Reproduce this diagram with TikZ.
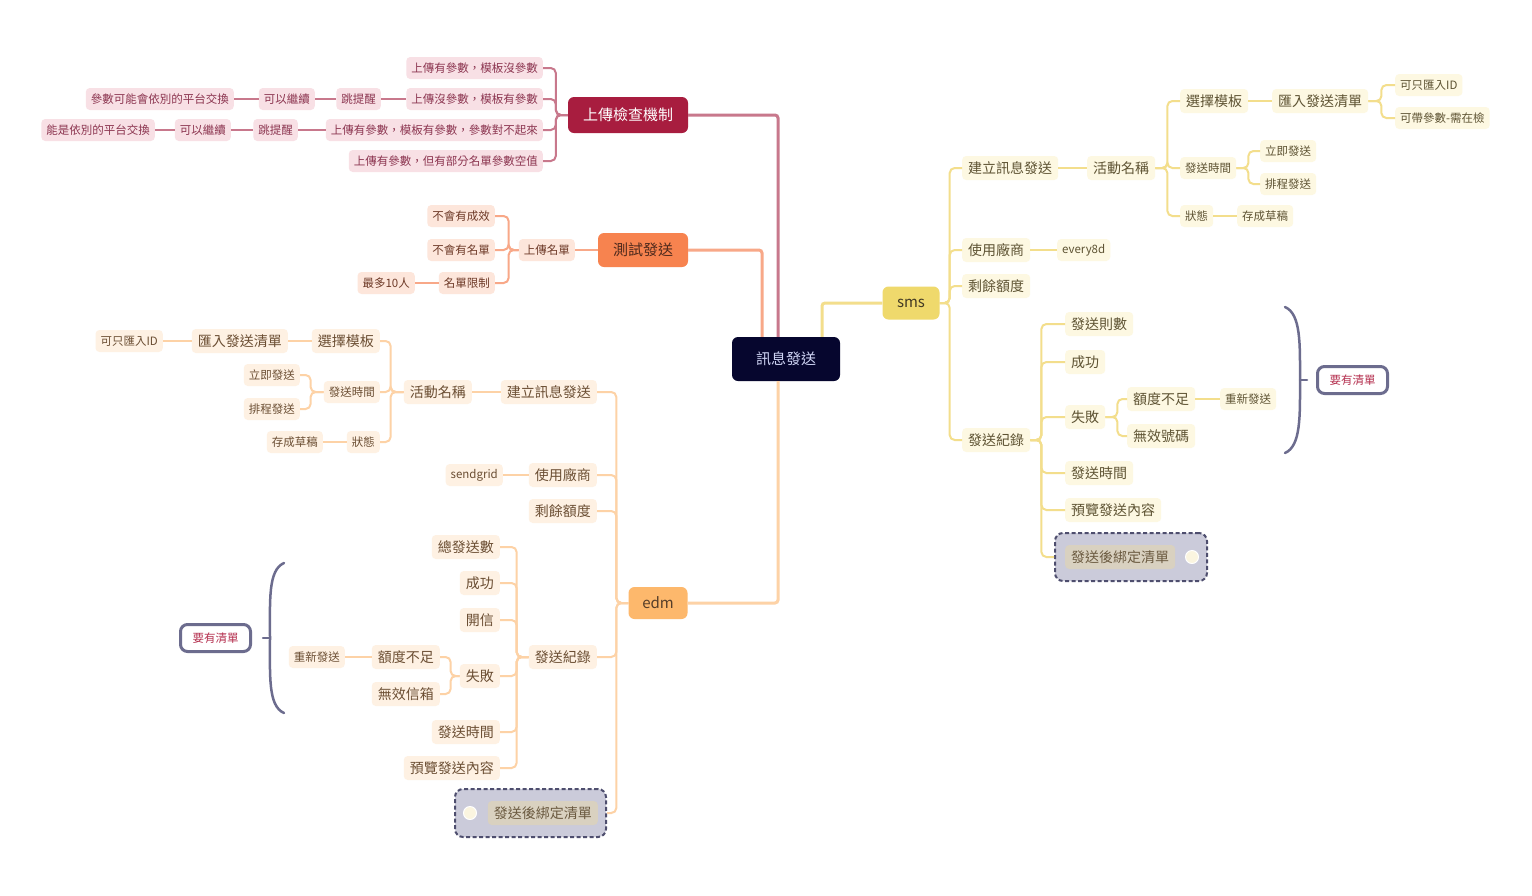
\documentclass[tikz,border=0pt]{standalone}
\usepackage{fontspec}
\setmainfont{Noto Sans CJK TC}
\usetikzlibrary{calc,fit}
\definecolor{navy}{HTML}{06062E}
\definecolor{roottxt}{HTML}{D0D5F5}
\definecolor{redmain}{HTML}{A81D3F}
\definecolor{redline}{HTML}{C8788C}
\definecolor{redleaf}{HTML}{F8E0E5}
\definecolor{redtxt}{HTML}{8C3550}
\definecolor{orgmain}{HTML}{F7834F}
\definecolor{orgline}{HTML}{F8A888}
\definecolor{orgleaf}{HTML}{FDE6DB}
\definecolor{orgtxt}{HTML}{6E3A28}
\definecolor{edmmain}{HTML}{FDB86C}
\definecolor{edmline}{HTML}{FDD2A6}
\definecolor{edmleaf}{HTML}{FEF1E3}
\definecolor{edmtxt}{HTML}{6B4E33}
\definecolor{smsmain}{HTML}{EFD96C}
\definecolor{smsline}{HTML}{F3DE8C}
\definecolor{smsleaf}{HTML}{FDF8E2}
\definecolor{smstxt}{HTML}{5E5333}
\definecolor{bindbg}{HTML}{CBCBDA}
\definecolor{binddash}{HTML}{4E4E6E}
\definecolor{bindin}{HTML}{D9D1C0}
\definecolor{bindtxt}{HTML}{6B5A40}
\definecolor{circfill}{HTML}{FBF5E0}
\definecolor{bracecol}{HTML}{6C6C8E}
\definecolor{needtxt}{HTML}{B5304F}
\newcommand\mmlink[4]{\draw[#1] (#2) -- ++(#3,0) |- (#4);}
\tikzset{
  nd/.style={rounded corners=4pt, inner ysep=0pt, align=center},
  big/.style={nd, inner xsep=6pt, minimum height=24pt, font=\fontsize{14}{16}\selectfont},
  sml/.style={nd, inner xsep=5pt, minimum height=22pt, font=\fontsize{11.5}{13}\selectfont},
  redlf/.style={sml, fill=redleaf, text=redtxt},
  orglf/.style={sml, fill=orgleaf, text=orgtxt},
  edmB/.style={big, fill=edmleaf, text=edmtxt},
  edmS/.style={sml, fill=edmleaf, text=edmtxt},
  smsB/.style={big, fill=smsleaf, text=smstxt},
  smsS/.style={sml, fill=smsleaf, text=smstxt},
  mainnd/.style={rounded corners=6pt, inner sep=0pt, font=\fontsize{15}{17}\selectfont},
  lnk/.style={line width=2pt, rounded corners=5pt},
  redlk/.style={lnk, draw=redline},
  orglk/.style={lnk, draw=orgline},
  edmlk/.style={lnk, draw=edmline},
  smslk/.style={lnk, draw=smsline},
  mainlk/.style={line width=3pt, rounded corners=3pt},
  bindbox/.style={draw=binddash, dash pattern=on 4pt off 2.5pt, line width=2pt, fill=bindbg, rounded corners=8pt, inner xsep=7pt, inner ysep=12pt},
  bindinner/.style={big, fill=bindin, text=bindtxt},
  bindcirc/.style={circle, fill=circfill, draw=white, line width=1pt, minimum size=13pt, inner sep=0pt},
  needbox/.style={draw=bracecol, line width=3pt, fill=white, rounded corners=7pt, minimum width=70pt, minimum height=27pt, inner sep=0pt, text=needtxt, font=\fontsize{11.5}{13}\selectfont},
  bracesty/.style={draw=bracecol, line width=2.5pt, line cap=round}
}
\begin{document}
\begin{tikzpicture}[x=1pt,y=-1pt]
\useasboundingbox[fill=white] (0,0) rectangle (1532,895);

% main nodes
\node[mainnd, fill=navy, text=roottxt, minimum width=108pt, minimum height=44pt] (root) at (786,359) {訊息發送};
\node[mainnd, fill=redmain, text=white, minimum width=120pt, minimum height=36pt] (chk) at (628,115) {上傳檢查機制};
\node[mainnd, fill=orgmain, text=orgtxt!70!black, minimum width=90pt, minimum height=34pt] (test) at (643,250) {測試發送};
\node[mainnd, fill=smsmain, text=smstxt!70!black, minimum width=57pt, minimum height=33pt] (sms) at (911,303) {sms};
\node[mainnd, fill=edmmain, text=edmtxt!80!black, minimum width=59pt, minimum height=32pt] (edm) at (658,603) {edm};

\draw[mainlk, draw=redline] ($(root.north)+(-8,0)$) |- (chk.east);
\draw[mainlk, draw=orgline] ($(root.north)+(-24,0)$) |- (test.east);
\draw[mainlk, draw=smsline] ($(root.north)+(36,0)$) |- (sms.west);
\draw[mainlk, draw=edmline] ($(root.south)+(-8,0)$) |- (edm.east);

% red subtree
\node[redlf, anchor=east] (r1) at (543,68) {上傳有參數，模板沒參數};
\node[redlf, anchor=east] (r2) at (543,99) {上傳沒參數，模板有參數};
\node[redlf, anchor=east] (r3) at (543,130) {上傳有參數，模板有參數，參數對不起來};
\node[redlf, anchor=east] (r4) at (543,161) {上傳有參數，但有部分名單參數空值};
\node[redlf, anchor=east] (r2a) at (381,99) {跳提醒};
\node[redlf, anchor=east] (r2b) at (315,99) {可以繼續};
\node[redlf, anchor=east] (r2c) at (234,99) {參數可能會依別的平台交換};
\node[redlf, anchor=east] (r3a) at (298,130) {跳提醒};
\node[redlf, anchor=east] (r3b) at (231,130) {可以繼續};
\node[redlf, anchor=east] (r3c) at (155,130) {能是依別的平台交換};
\mmlink{redlk}{chk.west}{-12}{r1.east}
\mmlink{redlk}{chk.west}{-12}{r2.east}
\mmlink{redlk}{chk.west}{-12}{r3.east}
\mmlink{redlk}{chk.west}{-12}{r4.east}
\draw[redlk] (r2.west) -- (r2a.east);
\draw[redlk] (r2a.west) -- (r2b.east);
\draw[redlk] (r2b.west) -- (r2c.east);
\draw[redlk] (r3.west) -- (r3a.east);
\draw[redlk] (r3a.west) -- (r3b.east);
\draw[redlk] (r3b.west) -- (r3c.east);

% orange subtree
\node[orglf, anchor=east] (o0) at (575,250) {上傳名單};
\node[orglf, anchor=east] (o1) at (495,216) {不會有成效};
\node[orglf, anchor=east] (o2) at (495,250) {不會有名單};
\node[orglf, anchor=east] (o3) at (495,283) {名單限制};
\node[orglf, anchor=east] (o3a) at (415,283) {最多10人};
\draw[orglk] (test.west) -- (o0.east);
\mmlink{orglk}{o0.west}{-10}{o1.east}
\mmlink{orglk}{o0.west}{-10}{o2.east}
\mmlink{orglk}{o0.west}{-10}{o3.east}
\draw[orglk] (o3.west) -- (o3a.east);

% edm subtree
\node[edmB, anchor=east] (e1) at (597,392) {建立訊息發送};
\node[edmB, anchor=east] (e11) at (472,392) {活動名稱};
\node[edmB, anchor=east] (e111) at (380,341) {選擇模板};
\node[edmB, anchor=east] (e1111) at (288,341) {匯入發送清單};
\node[edmS, anchor=east] (e11111) at (163,341) {可只匯入ID};
\node[edmS, anchor=east] (e112) at (380,392) {發送時間};
\node[edmS, anchor=east] (e1121) at (300,375) {立即發送};
\node[edmS, anchor=east] (e1122) at (300,409) {排程發送};
\node[edmS, anchor=east] (e113) at (380,442) {狀態};
\node[edmS, anchor=east] (e1131) at (323,442) {存成草稿};
\node[edmB, anchor=east] (e2) at (597,475) {使用廠商};
\node[edmS, anchor=east] (e21) at (503,475) {sendgrid};
\node[edmB, anchor=east] (e3) at (597,511) {剩餘額度};
\node[edmB, anchor=east] (e4) at (597,657) {發送紀錄};
\node[edmB, anchor=east] (e41) at (500,547) {總發送數};
\node[edmB, anchor=east] (e42) at (500,583) {成功};
\node[edmB, anchor=east] (e43) at (500,620) {開信};
\node[edmB, anchor=east] (e44) at (500,676) {失敗};
\node[edmB, anchor=east] (e441) at (440,657) {額度不足};
\node[edmS, anchor=east] (e4411) at (345,657) {重新發送};
\node[edmB, anchor=east] (e442) at (440,694) {無效信箱};
\node[edmB, anchor=east] (e45) at (500,732) {發送時間};
\node[edmB, anchor=east] (e46) at (500,768) {預覽發送內容};
\mmlink{edmlk}{edm.west}{-12}{e1.east}
\mmlink{edmlk}{edm.west}{-12}{e2.east}
\mmlink{edmlk}{edm.west}{-12}{e3.east}
\mmlink{edmlk}{edm.west}{-12}{e4.east}
\draw[edmlk] (e1.west) -- (e11.east);
\mmlink{edmlk}{e11.west}{-13}{e111.east}
\mmlink{edmlk}{e11.west}{-13}{e112.east}
\mmlink{edmlk}{e11.west}{-13}{e113.east}
\draw[edmlk] (e111.west) -- (e1111.east);
\draw[edmlk] (e1111.west) -- (e11111.east);
\mmlink{edmlk}{e112.west}{-13}{e1121.east}
\mmlink{edmlk}{e112.west}{-13}{e1122.east}
\draw[edmlk] (e113.west) -- (e1131.east);
\draw[edmlk] (e2.west) -- (e21.east);
\mmlink{edmlk}{e4.west}{-12}{e41.east}
\mmlink{edmlk}{e4.west}{-12}{e42.east}
\mmlink{edmlk}{e4.west}{-12}{e43.east}
\mmlink{edmlk}{e4.west}{-12}{e44.east}
\mmlink{edmlk}{e4.west}{-12}{e45.east}
\mmlink{edmlk}{e4.west}{-12}{e46.east}
\mmlink{edmlk}{e44.west}{-9}{e441.east}
\mmlink{edmlk}{e44.west}{-9}{e442.east}
\draw[edmlk] (e441.west) -- (e4411.east);

% sms subtree
\node[smsB, anchor=west] (s1) at (962,168) {建立訊息發送};
\node[smsB, anchor=west] (s11) at (1087,168) {活動名稱};
\node[smsB, anchor=west] (s111) at (1180,101) {選擇模板};
\node[smsB, anchor=west] (s1111) at (1272,101) {匯入發送清單};
\node[smsS, anchor=west] (s11111) at (1395,85) {可只匯入ID};
\node[smsS, anchor=west] (s11112) at (1395,118) {可帶參數-需在檢};
\node[smsS, anchor=west] (s112) at (1180,168) {發送時間};
\node[smsS, anchor=west] (s1121) at (1260,151) {立即發送};
\node[smsS, anchor=west] (s1122) at (1260,184) {排程發送};
\node[smsS, anchor=west] (s113) at (1180,216) {狀態};
\node[smsS, anchor=west] (s1131) at (1237,216) {存成草稿};
\node[smsB, anchor=west] (s2) at (962,250) {使用廠商};
\node[smsS, anchor=west] (s21) at (1057,250) {every8d};
\node[smsB, anchor=west] (s3) at (962,286) {剩餘額度};
\node[smsB, anchor=west] (s4) at (962,440) {發送紀錄};
\node[smsB, anchor=west] (s41) at (1065,324) {發送則數};
\node[smsB, anchor=west] (s42) at (1065,362) {成功};
\node[smsB, anchor=west] (s43) at (1065,417) {失敗};
\node[smsB, anchor=west] (s431) at (1127,399) {額度不足};
\node[smsS, anchor=west] (s4311) at (1220,399) {重新發送};
\node[smsB, anchor=west] (s432) at (1127,436) {無效號碼};
\node[smsB, anchor=west] (s44) at (1065,473) {發送時間};
\node[smsB, anchor=west] (s45) at (1065,510) {預覽發送內容};
\mmlink{smslk}{sms.east}{10}{s1.west}
\mmlink{smslk}{sms.east}{10}{s2.west}
\mmlink{smslk}{sms.east}{10}{s3.west}
\mmlink{smslk}{sms.east}{10}{s4.west}
\draw[smslk] (s1.east) -- (s11.west);
\mmlink{smslk}{s11.east}{12}{s111.west}
\mmlink{smslk}{s11.east}{12}{s112.west}
\mmlink{smslk}{s11.east}{12}{s113.west}
\draw[smslk] (s111.east) -- (s1111.west);
\mmlink{smslk}{s1111.east}{13}{s11111.west}
\mmlink{smslk}{s1111.east}{13}{s11112.west}
\mmlink{smslk}{s112.east}{12}{s1121.west}
\mmlink{smslk}{s112.east}{12}{s1122.west}
\draw[smslk] (s113.east) -- (s1131.west);
\draw[smslk] (s2.east) -- (s21.west);
\mmlink{smslk}{s4.east}{11}{s41.west}
\mmlink{smslk}{s4.east}{11}{s42.west}
\mmlink{smslk}{s4.east}{11}{s43.west}
\mmlink{smslk}{s4.east}{11}{s44.west}
\mmlink{smslk}{s4.east}{11}{s45.west}
\mmlink{smslk}{s43.east}{12}{s431.west}
\mmlink{smslk}{s43.east}{12}{s432.west}
\draw[smslk] (s431.east) -- (s4311.west);

% bound-list boxes
\node[bindbox, fit={(462,801) (599,825)}] (e5box) {};
\node[bindcirc] (ec) at (470,813) {};
\node[bindinner, anchor=east] (e5) at (598,813) {發送後綁定清單};
\mmlink{edmlk}{edm.west}{-12}{e5box.east}

\node[bindbox, fit={(1062,545) (1200,569)}] (s5box) {};
\node[bindinner, anchor=west] (s5) at (1065,557) {發送後綁定清單};
\node[bindcirc] (sc) at (1192,557) {};
\mmlink{smslk}{s4.east}{11}{s5box.west}

% braces and notes
\coordinate (lbtip) at (270,638);
\draw[bracesty] (284,563) .. controls (268,570) and (270,600) .. (lbtip) .. controls (270,676) and (268,706) .. (284,713);
\node[needbox, anchor=east] (lneed) at (252,638) {要有清單};
\draw[bracesty] (lbtip) -- ($(lbtip)+(-7,0)$);

\coordinate (rbtip) at (1300,380);
\draw[bracesty] (1285,307) .. controls (1301,314) and (1300,344) .. (rbtip) .. controls (1300,416) and (1301,446) .. (1285,453);
\node[needbox, anchor=west] (rneed) at (1316,380) {要有清單};
\draw[bracesty] (rbtip) -- ($(rbtip)+(7,0)$);
\end{tikzpicture}
\end{document}
